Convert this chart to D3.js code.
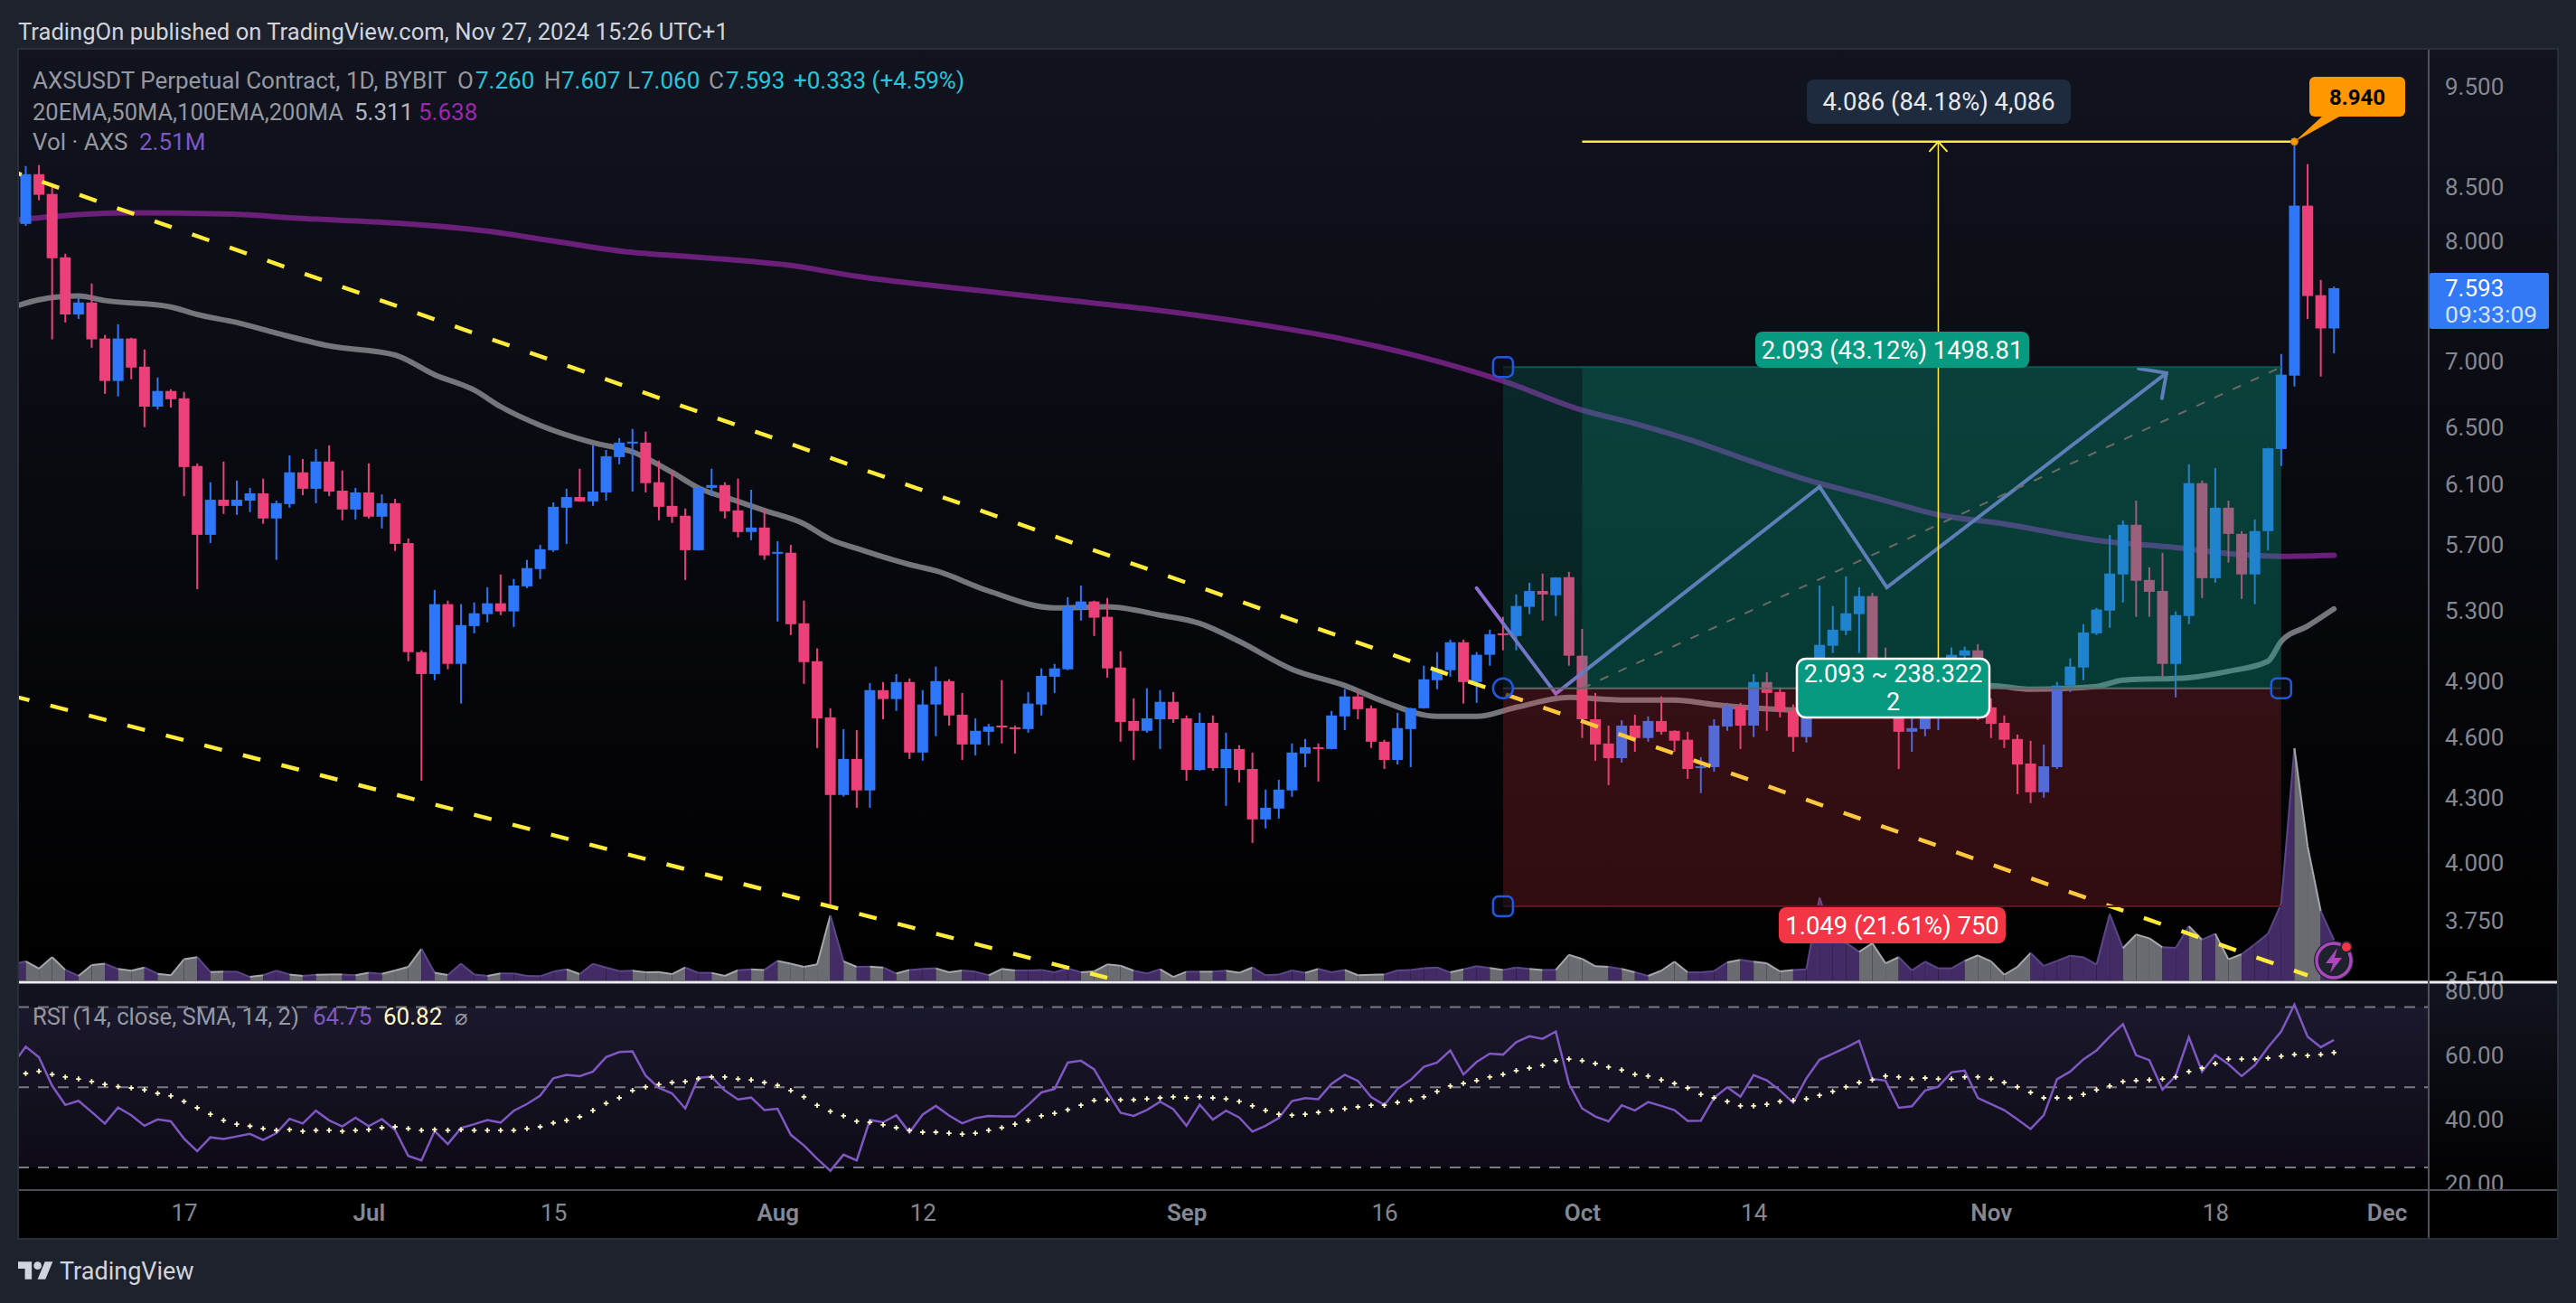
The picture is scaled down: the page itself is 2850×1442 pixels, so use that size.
<!DOCTYPE html>
<html>
<head>
<meta charset="utf-8">
<title>AXSUSDT</title>
<script src="https://cdn.jsdelivr.net/npm/d3@7"></script>
<style>
  html, body { margin: 0; padding: 0; background: #1e222d; }
  svg { display: block; font-family: Roboto, "Liberation Sans", sans-serif; }
</style>
</head>
<body>
<div id="chart"></div>
<script>
// daily candles, first one is 5 Jun 2024
const firstDay = new Date(Date.UTC(2024, 5, 5));

const opens = [
  8.157,8.622,8.434,7.859,7.374,7.473,7.179,6.847,7.179,6.957,
  6.654,6.771,6.716,6.228,5.768,5.998,5.957,5.992,6.041,5.874,
  5.969,6.184,6.072,6.259,6.059,5.933,6.047,5.886,5.975,5.715,
  5.061,4.939,5.339,4.995,5.210,5.280,5.344,5.296,5.446,5.552,
  5.670,5.945,6.016,5.987,6.047,6.290,6.386,6.392,6.116,5.957,
  5.892,5.670,6.078,6.097,5.927,5.786,5.815,5.648,5.654,5.226,
  5.010,4.706,4.316,4.493,4.338,4.851,4.803,4.895,4.525,4.774,
  4.900,4.720,4.566,4.631,4.663,4.654,4.645,4.774,4.924,4.965,
  5.312,5.355,5.264,4.975,4.687,4.636,4.696,4.788,4.701,4.438,
  4.677,4.447,4.543,4.443,4.200,4.251,4.338,4.520,4.552,4.543,
  4.711,4.817,4.754,4.580,4.488,4.645,4.754,4.905,4.960,5.117,
  4.895,5.046,5.168,5.153,5.323,5.418,5.392,5.502,5.041,4.696,
  4.571,4.497,4.663,4.599,4.687,4.636,4.590,4.447,4.452,4.658,
  4.764,4.663,4.895,4.841,4.740,4.604,4.910,5.097,5.184,5.280,
  5.387,4.944,4.822,4.631,4.645,4.749,4.895,5.041,5.071,4.759,
  4.677,4.594,4.470,4.329,4.452,4.876,4.975,5.168,5.301,5.519,
  5.833,5.485,5.418,4.995,5.269,6.110,5.496,5.945,5.774,5.519,
  5.792,6.347,6.888,8.325,7.534,7.260
];
const highs = [
  8.701,8.710,8.526,7.891,7.519,7.633,7.207,7.294,7.185,7.092,
  6.874,6.785,6.764,6.246,6.116,6.259,6.128,6.078,6.141,5.992,
  6.302,6.277,6.347,6.373,6.197,6.078,6.246,6.034,6.004,5.745,
  5.071,5.424,5.360,5.339,5.349,5.440,5.519,5.491,5.609,5.704,
  5.980,6.072,6.209,6.373,6.340,6.425,6.491,6.471,6.265,6.190,
  5.939,6.085,6.209,6.116,6.141,6.065,5.939,5.727,5.704,5.360,
  5.082,4.754,4.645,4.640,4.890,4.895,4.939,4.914,4.851,4.980,
  4.910,4.836,4.701,4.672,4.905,4.663,4.841,4.970,4.995,5.381,
  5.451,5.360,5.376,5.066,4.807,4.861,4.851,4.841,4.716,4.730,
  4.716,4.626,4.562,4.525,4.342,4.390,4.571,4.594,4.571,4.740,
  4.856,4.846,4.769,4.590,4.730,4.756,4.985,5.061,5.132,5.132,
  5.061,5.189,5.264,5.397,5.468,5.524,5.502,5.535,5.194,4.836,
  4.663,4.691,4.720,4.711,4.817,4.638,4.631,4.502,4.696,4.783,
  4.783,4.939,4.949,4.866,4.774,4.944,5.451,5.328,5.507,5.440,
  5.408,5.087,4.871,4.725,4.774,4.970,5.087,5.092,5.107,4.807,
  4.716,4.617,4.585,4.566,4.895,5.026,5.221,5.317,5.768,5.862,
  5.992,5.563,5.654,5.296,6.240,6.128,6.215,5.992,5.792,5.868,
  6.355,7.056,8.940,8.719,7.664,7.607
];
const lows = [
  8.139,8.375,7.172,7.308,7.337,7.106,6.750,6.730,6.860,6.504,
  6.634,6.647,6.022,5.429,5.715,5.904,5.898,5.916,5.839,5.609,
  5.945,6.028,5.975,6.022,5.862,5.868,5.874,5.809,5.665,5.010,
  4.385,4.905,4.965,4.779,5.168,5.232,5.274,5.205,5.435,5.491,
  5.659,5.710,5.985,5.957,5.992,6.240,6.053,6.047,5.862,5.845,
  5.485,5.668,6.022,5.874,5.751,5.733,5.609,5.237,5.158,4.885,
  4.548,3.813,4.308,4.255,4.255,4.696,4.740,4.493,4.484,4.608,
  4.663,4.488,4.511,4.562,4.571,4.520,4.626,4.716,4.836,4.960,
  5.242,5.153,4.919,4.580,4.488,4.626,4.543,4.677,4.385,4.434,
  4.434,4.264,4.377,4.091,4.158,4.204,4.307,4.452,4.381,4.541,
  4.640,4.696,4.548,4.443,4.465,4.452,4.752,4.856,4.924,4.779,
  4.783,4.985,5.071,5.071,5.280,5.242,5.269,4.985,4.599,4.484,
  4.364,4.475,4.529,4.580,4.617,4.529,4.394,4.325,4.430,4.636,
  4.543,4.604,4.636,4.706,4.529,4.576,4.798,5.056,5.158,5.056,
  4.871,4.749,4.443,4.529,4.608,4.640,4.871,4.919,4.691,4.599,
  4.548,4.320,4.277,4.303,4.443,4.841,4.905,5.158,5.200,5.349,
  5.264,5.264,4.924,4.812,5.221,5.376,5.468,5.592,5.370,5.339,
  5.670,6.228,6.805,7.337,6.881,7.060
];
const closes = [
  8.622,8.426,7.851,7.374,7.473,7.172,6.847,7.179,6.950,6.654,
  6.771,6.709,6.221,5.768,5.998,5.957,5.998,6.041,5.874,5.975,
  6.184,6.072,6.259,6.053,5.933,6.047,5.886,5.975,5.710,5.061,
  4.939,5.339,4.995,5.216,5.285,5.344,5.296,5.451,5.558,5.676,
  5.951,6.016,5.987,6.053,6.296,6.392,6.399,6.110,5.951,5.886,
  5.670,6.078,6.097,5.921,5.786,5.815,5.637,5.659,5.221,5.005,
  4.701,4.316,4.493,4.338,4.851,4.803,4.895,4.525,4.774,4.900,
  4.716,4.566,4.636,4.658,4.654,4.645,4.779,4.929,4.970,5.323,
  5.355,5.259,4.970,4.682,4.636,4.701,4.788,4.696,4.438,4.677,
  4.447,4.543,4.438,4.200,4.255,4.342,4.525,4.552,4.543,4.716,
  4.817,4.749,4.580,4.488,4.650,4.754,4.910,4.965,5.117,4.895,
  5.046,5.163,5.158,5.328,5.418,5.397,5.500,5.041,4.696,4.566,
  4.497,4.663,4.599,4.687,4.631,4.585,4.443,4.456,4.663,4.764,
  4.663,4.895,4.836,4.740,4.604,4.910,5.102,5.189,5.285,5.387,
  4.944,4.822,4.631,4.650,4.749,4.895,5.046,5.071,4.774,4.672,
  4.590,4.465,4.329,4.456,4.876,4.980,5.173,5.307,5.524,5.833,
  5.480,5.413,4.995,5.274,6.110,5.496,5.945,5.774,5.519,5.792,
  6.352,6.895,8.325,7.527,7.260,7.593
];
// volume in millions
const volumeBefore = 0.99;
const volumes = [
  1.18,.73,1.44,.65,.28,.95,1.03,.71,.60,.80,
  .41,.32,1.31,1.44,.52,.54,.54,.22,.32,.60,
  .37,.28,.35,.37,.37,.32,.47,.41,.62,.84,
  1.96,.47,.34,1.03,.37,.28,.43,.43,.28,.26,
  .54,.69,.39,1.03,.80,.58,.60,.50,.52,.39,
  .80,.47,.47,.28,.63,.69,.65,1.21,1.03,.84,
  .99,4.03,1.18,.84,.86,.80,.43,.65,.71,.75,
  .50,.62,.54,.32,.71,.62,.62,.65,.50,.75,
  .50,.56,.99,.91,.60,.43,.69,.22,.54,.54,
  .54,.60,.47,.80,.32,.37,.62,.47,.71,.50,
  .65,.32,.35,.37,.62,.65,.75,.80,.50,.69,
  .88,.77,.65,.80,.71,.65,.65,1.59,1.33,.88,
  .84,.71,.50,.28,.60,1.16,.50,.50,.58,1.12,
  1.27,1.16,1.06,.56,.65,.69,5.13,2.71,2.33,1.77,
  2.30,1.06,1.44,.62,1.16,.75,.75,1.21,1.55,1.18,
  .35,.84,1.70,.90,1.21,1.53,1.44,.99,4.11,2.00,
  2.84,2.61,2.05,2.02,3.36,2.52,2.89,1.31,1.62,2.24,
  2.89,4.76,14.38,8.31,4.29,2.51
];
const rsiBefore = 57.0;
const rsiValues = [
  62.7,59.4,50.5,44.5,45.8,42.3,38.7,43.7,41.3,38.0,
  40.0,39.4,34.0,30.1,34.4,33.9,34.7,35.5,33.6,35.7,
  40.2,38.7,42.7,39.7,37.8,40.5,37.9,40.1,36.7,28.6,
  27.2,36.4,32.3,37.3,38.5,39.8,39.0,42.7,44.8,47.4,
  52.8,53.9,53.5,54.9,59.4,61.0,61.2,53.6,49.8,48.1,
  43.4,53.0,53.3,49.0,46.2,46.8,42.9,43.3,35.2,31.9,
  27.7,24.0,29.0,27.2,39.8,39.1,41.3,35.9,41.5,44.2,
  41.2,38.8,40.4,41.1,40.9,40.9,44.5,48.4,49.5,57.7,
  58.3,55.6,48.6,42.1,41.1,42.9,45.5,43.2,38.0,44.6,
  39.9,42.7,40.6,36.2,38.0,40.4,45.7,46.6,46.3,51.1,
  53.9,52.0,47.0,44.5,49.5,52.3,56.4,57.7,61.5,54.0,
  57.9,60.5,60.2,64.1,65.9,65.1,67.4,51.1,43.4,40.9,
  39.4,44.4,42.8,45.4,44.2,42.9,39.5,39.6,46.7,50.0,
  47.1,53.8,52.2,49.0,45.2,52.8,58.6,60.5,62.4,64.5,
  52.6,52.1,43.6,44.1,49.0,50.2,54.7,55.2,46.7,44.8,
  42.9,40.0,37.0,41.3,52.5,54.9,58.7,61.5,65.8,69.7,
  60.0,58.5,49.3,53.6,65.6,54.9,60.1,57.2,53.5,56.9,
  62.5,67.4,75.8,65.8,62.5,64.75
];
const rsiSignal = [
  54.3,55.0,54.0,53.2,52.6,51.8,50.9,50.2,49.8,49.2,
  48.1,47.3,45.6,43.6,41.6,39.7,38.5,37.9,37.1,36.6,
  36.8,36.3,36.6,36.6,36.3,36.6,36.8,37.4,37.7,37.1,
  36.6,36.8,36.6,36.8,36.6,36.6,36.6,36.6,37.1,37.7,
  38.9,39.7,40.8,42.8,45.0,46.7,49.0,50.1,50.9,51.5,
  51.8,52.7,53.2,53.2,52.6,52.3,51.5,50.6,49.0,47.0,
  44.4,42.5,41.1,39.4,39.1,38.3,37.4,36.6,36.0,36.0,
  35.7,35.4,35.7,36.6,37.4,38.5,39.7,41.1,41.9,43.0,
  44.4,45.9,46.1,46.1,46.1,46.4,46.7,47.0,46.7,47.0,
  46.7,46.4,45.6,44.2,42.8,41.6,41.3,41.6,42.2,42.8,
  43.3,43.9,44.4,44.4,45.3,45.9,47.0,48.7,50.4,51.2,
  52.1,53.2,54.0,55.2,56.0,56.8,58.3,58.8,58.3,57.4,
  56.3,55.4,54.0,53.5,52.3,51.2,49.8,47.8,46.7,45.6,
  44.2,44.2,44.7,45.6,45.9,46.4,47.5,48.7,50.1,51.5,
  52.3,53.5,53.2,52.6,52.9,52.6,52.6,53.2,53.2,52.6,
  51.5,50.1,48.4,46.7,46.7,46.7,47.8,49.2,50.4,51.8,
  52.1,52.3,52.6,53.2,54.9,56.0,57.4,58.8,58.8,58.8,
  59.1,59.7,60.2,59.9,60.2,60.82
];
// moving averages, read every few days: day number from firstDay, then value
const ma200Days = [-1,2,8,15,21,28,35,40,45,52,58,63,73,78,85,93,100,106,112,118,122,127,128,135,140,145,150,157,163,168,171,175];
const ma200Values = [8.19,8.224,8.258,8.249,8.207,8.165,8.092,8.003,7.915,7.851,7.788,7.694,7.565,7.504,7.42,7.301,7.172,7.027,6.847,6.628,6.529,6.386,6.353,6.134,6.016,5.898,5.839,5.733,5.687,5.642,5.631,5.638];
const ma100Days = [-1,1,4,6,11,13,16,19,23,28,31,34,36,39,43,46,49,51,54,56,59,61,63,67,69,73,78,82,86,89,92,96,100,103,107,110,113,117,121,125,128,135,142,149,152,157,159,164,167,170,171,173,175];
const ma100Values = [7.432,7.496,7.527,7.489,7.436,7.374,7.308,7.222,7.12,7.048,6.895,6.778,6.654,6.517,6.392,6.327,6.184,6.078,5.987,5.927,5.839,5.739,5.681,5.58,5.541,5.418,5.317,5.323,5.274,5.226,5.122,4.965,4.876,4.788,4.711,4.711,4.759,4.812,4.798,4.798,4.774,4.745,4.822,4.876,4.856,4.871,4.905,4.919,4.954,5.01,5.122,5.21,5.311];

const priceTicks = [9.5,8.5,8,7,6.5,6.1,5.7,5.3,4.9,4.6,4.3,4,3.75,3.51];
const rsiTicks = [80,60,40,20];
const rsiBands = [75,50,25];
const timeTicks = [
  [2024,5,17,"17"],[2024,6,1,"Jul"],[2024,6,15,"15"],[2024,7,1,"Aug"],[2024,7,12,"12"],[2024,8,1,"Sep"],
  [2024,8,16,"16"],[2024,9,1,"Oct"],[2024,9,14,"14"],[2024,10,1,"Nov"],[2024,10,18,"18"],[2024,11,1,"Dec"]
];

// drawings on the chart, day number and price
const upperTrend = [[-1,8.648],[173,3.53]];
const lowerTrend = [[-1,4.82],[82,3.52]];
const zigzag = [[110,5.435],[116,4.832],[136,6.085],[141.1,5.44],[162.3,6.908]];
const entryPrice = 4.861, targetPrice = 6.954, stopPrice = 3.812, peakPrice = 8.94;
const boxStart = 112, boxMid = 118, boxEnd = 171, peakDay = 172, rangeDay = 145;

const W = 2850, H = 1442;
const plotLeft = 20, plotRight = 2830, axisX = 2687, plotTop = 54;
const paneBottom = 1087, rsiBottom = 1317, plotBottom = 1371;

const svg = d3.select("#chart").append("svg").attr("width", W).attr("height", H);
const defs = svg.append("defs");

function gradient(id, c1, c2) {
  const g = defs.append("linearGradient").attr("id", id).attr("x1", 0).attr("y1", 0).attr("x2", 0).attr("y2", 1);
  g.append("stop").attr("offset", "0%").attr("stop-color", c1);
  g.append("stop").attr("offset", "100%").attr("stop-color", c2);
}
gradient("paneBg", "#11131e", "#000000");
gradient("rsiBg", "#12141f", "#000000");

defs.append("clipPath").attr("id", "mainClip").append("rect")
  .attr("x", plotLeft).attr("y", plotTop).attr("width", axisX - plotLeft).attr("height", paneBottom - plotTop - 2);
defs.append("clipPath").attr("id", "rsiClip").append("rect")
  .attr("x", plotLeft).attr("y", paneBottom + 2).attr("width", axisX - plotLeft).attr("height", rsiBottom - paneBottom - 3);
defs.append("clipPath").attr("id", "priceAxisClip").append("rect")
  .attr("x", axisX).attr("y", plotTop).attr("width", plotRight - axisX).attr("height", paneBottom - plotTop - 1);
defs.append("clipPath").attr("id", "rsiAxisClip").append("rect")
  .attr("x", axisX).attr("y", paneBottom).attr("width", plotRight - axisX).attr("height", rsiBottom - paneBottom);

// scales
const x = d3.scaleUtc()
  .domain([new Date(Date.UTC(2024, 5, 17)), new Date(Date.UTC(2024, 11, 1))])
  .range([203.6, 2640.6]);
const y = d3.scaleLog().domain([9.5, 3.51]).range([96.5, 1085]);
const yVol = d3.scaleLinear().domain([0, 14.38]).range([1085, 828]);
const yRsi = d3.scaleLinear().domain([80, 20]).range([1096.8, 1309.8]);
const dayX = d => x(new Date(firstDay.getTime() + d * 864e5));

// backgrounds
svg.append("rect").attr("x", plotLeft).attr("y", plotTop).attr("width", plotRight - plotLeft).attr("height", paneBottom - plotTop).attr("fill", "url(#paneBg)");
svg.append("rect").attr("x", plotLeft).attr("y", paneBottom).attr("width", plotRight - plotLeft).attr("height", rsiBottom - paneBottom).attr("fill", "url(#rsiBg)");
svg.append("rect").attr("x", plotLeft).attr("y", rsiBottom).attr("width", plotRight - plotLeft).attr("height", plotBottom - rsiBottom).attr("fill", "#000");

const main = svg.append("g").attr("clip-path", "url(#mainClip)");

// volume, each piece of the area takes the colour of the candle it ends on
const volPoints = [volumeBefore].concat(volumes);
const volArea = d3.area().x(d => dayX(d[0])).y0(yVol(0)).y1(d => yVol(d[1]));
const volLine = d3.line().x(d => dayX(d[0])).y(d => yVol(d[1]));
closes.forEach((c, i) => {
  const seg = [[i - 1, volPoints[i]], [i, volPoints[i + 1]]];
  const up = c >= opens[i];
  main.append("path").attr("d", volArea(seg)).attr("fill", up ? "#432c66" : "#6a6c71");
  main.append("path").attr("d", volLine(seg)).attr("fill", "none").attr("stroke", up ? "#5b4688" : "#a5a7ab").attr("stroke-width", 2);
});

// moving averages
const maLine = d3.line().x(d => dayX(d[0])).y(d => y(d[1])).curve(d3.curveMonotoneX);
main.append("path").attr("d", maLine(ma200Days.map((d, i) => [d, ma200Values[i]])))
  .attr("fill", "none").attr("stroke", "#6a1f78").attr("stroke-width", 6).attr("stroke-linecap", "round");
main.append("path").attr("d", maLine(ma100Days.map((d, i) => [d, ma100Values[i]])))
  .attr("fill", "none").attr("stroke", "#74767c").attr("stroke-width", 6).attr("stroke-linecap", "round");

// candles
const bodyW = 12;
const candles = main.append("g").selectAll("g").data(closes).enter().append("g")
  .attr("fill", (c, i) => c >= opens[i] ? "#2e77fa" : "#ec407a")
  .attr("stroke", (c, i) => c >= opens[i] ? "#2e77fa" : "#ec407a");
candles.append("line")
  .attr("x1", (c, i) => dayX(i)).attr("x2", (c, i) => dayX(i))
  .attr("y1", (c, i) => y(highs[i])).attr("y2", (c, i) => y(lows[i]))
  .attr("stroke-width", 2);
candles.append("rect")
  .attr("x", (c, i) => dayX(i) - bodyW / 2)
  .attr("width", bodyW)
  .attr("y", (c, i) => y(Math.max(opens[i], c)))
  .attr("height", (c, i) => Math.max(2, y(Math.min(opens[i], c)) - y(Math.max(opens[i], c))))
  .attr("stroke", "none");

// trend lines
const trend = d3.line().x(d => dayX(d[0])).y(d => y(d[1]));
main.append("path").attr("d", trend(upperTrend)).attr("stroke", "#ffeb3b").attr("stroke-width", 4.5)
  .attr("stroke-dasharray", "20 24").attr("stroke-dashoffset", 9.5).attr("fill", "none");
main.append("path").attr("d", trend(lowerTrend)).attr("stroke", "#ffeb3b").attr("stroke-width", 4.5)
  .attr("stroke-dasharray", "20 24").attr("stroke-dashoffset", 0.8).attr("fill", "none");

// hand drawn arrow, under the box so the box tints it
main.append("path").attr("d", d3.line().x(d => dayX(d[0])).y(d => y(d[1]))(zigzag))
  .attr("fill", "none").attr("stroke", "#8c6fd6").attr("stroke-width", 4).attr("stroke-linejoin", "miter").attr("stroke-linecap", "round");
const tip = zigzag[zigzag.length - 1];
main.append("path")
  .attr("d", `M${dayX(tip[0]) - 31},${y(tip[1]) - 5}L${dayX(tip[0])},${y(tip[1])}L${dayX(tip[0]) - 5},${y(tip[1]) + 28}`)
  .attr("fill", "none").attr("stroke", "#8c6fd6").attr("stroke-width", 4).attr("stroke-linecap", "round");

// long position box
main.append("rect").attr("x", dayX(boxStart)).attr("width", dayX(boxEnd) - dayX(boxStart))
  .attr("y", y(targetPrice)).attr("height", y(entryPrice) - y(targetPrice)).attr("fill", "#089981").attr("fill-opacity", 0.2);
main.append("rect").attr("x", dayX(boxMid)).attr("width", dayX(boxEnd) - dayX(boxMid))
  .attr("y", y(targetPrice)).attr("height", y(entryPrice) - y(targetPrice)).attr("fill", "#089981").attr("fill-opacity", 0.2);
main.append("rect").attr("x", dayX(boxStart)).attr("width", dayX(boxEnd) - dayX(boxStart))
  .attr("y", y(entryPrice)).attr("height", y(stopPrice) - y(entryPrice)).attr("fill", "#f23645").attr("fill-opacity", 0.2);
main.append("line").attr("x1", dayX(boxStart)).attr("x2", dayX(boxEnd)).attr("y1", y(entryPrice)).attr("y2", y(entryPrice))
  .attr("stroke", "#5f6a68").attr("stroke-width", 2);
main.append("line").attr("x1", dayX(boxStart)).attr("x2", dayX(boxEnd)).attr("y1", y(targetPrice)).attr("y2", y(targetPrice))
  .attr("stroke", "#0b5a4e").attr("stroke-width", 2);
main.append("line").attr("x1", dayX(boxStart)).attr("x2", dayX(boxEnd)).attr("y1", y(stopPrice)).attr("y2", y(stopPrice))
  .attr("stroke", "#5a1720").attr("stroke-width", 2);
main.append("line").attr("x1", dayX(boxMid)).attr("x2", dayX(boxEnd)).attr("y1", y(entryPrice)).attr("y2", y(targetPrice))
  .attr("stroke", "#6d6a66").attr("stroke-width", 2).attr("stroke-dasharray", "10 12");

// price range tool
main.append("line").attr("x1", dayX(boxMid)).attr("x2", dayX(peakDay)).attr("y1", y(peakPrice)).attr("y2", y(peakPrice))
  .attr("stroke", "#ffeb3b").attr("stroke-width", 2.5);
main.append("line").attr("x1", dayX(rangeDay)).attr("x2", dayX(rangeDay)).attr("y1", y(peakPrice)).attr("y2", y(entryPrice))
  .attr("stroke", "#ffeb3b").attr("stroke-width", 1.5);
main.append("path")
  .attr("d", `M${dayX(rangeDay) - 10},${y(peakPrice) + 11}L${dayX(rangeDay)},${y(peakPrice)}L${dayX(rangeDay) + 10},${y(peakPrice) + 11}`)
  .attr("fill", "none").attr("stroke", "#ffeb3b").attr("stroke-width", 2);

// text helper
function label(g, tx, ty, str, color, size, weight, anchor) {
  return g.append("text").attr("x", tx).attr("y", ty).attr("dy", ".36em").text(str)
    .attr("fill", color).attr("font-size", size).attr("font-weight", weight || 400).attr("text-anchor", anchor || "start");
}

// callouts
function callout(bx, by, bw, bh, fill, lines, color) {
  svg.append("rect").attr("x", bx).attr("y", by).attr("width", bw).attr("height", bh).attr("rx", 8).attr("fill", fill);
  lines.forEach((t, i) => {
    label(svg, bx + bw / 2, by + bh / 2 + (i - (lines.length - 1) / 2) * 32, t, color || "#fff", 27.4, 400, "middle");
  });
}
callout(1999, 88, 292, 49, "#1e2a3d", ["4.086 (84.18%) 4,086"], "#e6e8ee");
callout(1942, 367, 303, 40, "#089981", ["2.093 (43.12%) 1498.81"]);
callout(1968, 1004, 251, 40, "#f23645", ["1.049 (21.61%) 750"]);

svg.append("rect").attr("x", 1988).attr("y", 729).attr("width", 213).attr("height", 65).attr("rx", 10)
  .attr("fill", "#089981").attr("stroke", "#ffffff").attr("stroke-width", 2.5);
label(svg, 2094.5, 745, "2.093 ~ 238.322", "#fff", 27, 400, "middle");
label(svg, 2094.5, 776, "2", "#fff", 27, 400, "middle");

// orange high flag
const px = dayX(peakDay), py = y(peakPrice);
svg.append("path").attr("d", `M${px},${py}L2570,128L2590,128Z`).attr("fill", "#ff9800");
svg.append("rect").attr("x", 2555).attr("y", 85).attr("width", 106).attr("height", 44).attr("rx", 6).attr("fill", "#ff9800");
label(svg, 2608, 107, "8.940", "#000", 24, 700, "middle");
svg.append("circle").attr("cx", px).attr("cy", py).attr("r", 4).attr("fill", "#ff9800").attr("stroke", "#b98a10").attr("stroke-width", 1);

// tool handles
[[boxStart, targetPrice], [boxStart, stopPrice], [boxEnd, entryPrice]].forEach(d => {
  svg.append("rect").attr("x", dayX(d[0]) - 11).attr("y", y(d[1]) - 11).attr("width", 22).attr("height", 22).attr("rx", 6)
    .attr("fill", "#0c0d14").attr("fill-opacity", 0.6).attr("stroke", "#2158e0").attr("stroke-width", 2.5);
});
svg.append("circle").attr("cx", dayX(boxStart)).attr("cy", y(entryPrice)).attr("r", 11)
  .attr("fill", "#0c0d14").attr("fill-opacity", 0.6).attr("stroke", "#2158e0").attr("stroke-width", 2.5);

// rsi pane
const rsiPane = svg.append("g").attr("clip-path", "url(#rsiClip)");
rsiPane.append("rect").attr("x", plotLeft).attr("width", axisX - plotLeft)
  .attr("y", yRsi(75)).attr("height", yRsi(25) - yRsi(75)).attr("fill", "#7e57c2").attr("fill-opacity", 0.1);
rsiBands.forEach(b => {
  rsiPane.append("line").attr("x1", plotLeft).attr("x2", axisX).attr("y1", yRsi(b)).attr("y2", yRsi(b))
    .attr("stroke", "#787b86").attr("stroke-width", 2).attr("stroke-dasharray", "12 10");
});
const rsiLine = d3.line().x(d => dayX(d[0])).y(d => yRsi(d[1]));
rsiPane.append("path").attr("d", rsiLine([[-1, rsiBefore]].concat(rsiValues.map((v, i) => [i, v]))))
  .attr("fill", "none").attr("stroke", "#7e57c2").attr("stroke-width", 2.5);
rsiPane.selectAll("path.cross").data(rsiSignal).enter().append("path").attr("class", "cross")
  .attr("d", d3.symbol(d3.symbolCross, 17))
  .attr("transform", (v, i) => `translate(${dayX(i)},${yRsi(v)})`)
  .attr("fill", "#fff9c4");

// axes
const priceAxis = svg.append("g").attr("clip-path", "url(#priceAxisClip)")
  .append("g").attr("transform", `translate(${axisX},0)`)
  .call(d3.axisRight(y).tickValues(priceTicks).tickFormat(d3.format(".3f")).tickSize(0).tickPadding(18));
const rsiAxis = svg.append("g").attr("clip-path", "url(#rsiAxisClip)")
  .append("g").attr("transform", `translate(${axisX},0)`)
  .call(d3.axisRight(yRsi).tickValues(rsiTicks).tickFormat(d3.format(".2f")).tickSize(0).tickPadding(18));
const timeAxis = svg.append("g").attr("transform", `translate(0,${rsiBottom})`)
  .call(d3.axisBottom(x).tickValues(timeTicks.map(t => new Date(Date.UTC(t[0], t[1], t[2]))))
    .tickFormat((d, i) => timeTicks[i][3]).tickSize(0).tickPadding(16));
[priceAxis, rsiAxis, timeAxis].forEach(a => {
  a.select(".domain").remove();
  a.selectAll("text").attr("fill", "#858892").attr("font-size", 26).attr("font-family", "Roboto");
});
timeAxis.selectAll("text").attr("font-weight", (d, i) => /^[A-Z]/.test(timeTicks[i][3]) ? 600 : 400);

// frame lines
svg.append("line").attr("x1", plotLeft).attr("x2", plotRight).attr("y1", paneBottom).attr("y2", paneBottom).attr("stroke", "#eeeef2").attr("stroke-width", 3);
svg.append("line").attr("x1", plotLeft).attr("x2", plotRight).attr("y1", rsiBottom).attr("y2", rsiBottom).attr("stroke", "#4c4d5a").attr("stroke-width", 2);
svg.append("line").attr("x1", axisX).attr("x2", axisX).attr("y1", plotTop).attr("y2", plotBottom).attr("stroke", "#50535e").attr("stroke-width", 2);
svg.append("rect").attr("x", plotLeft).attr("y", plotTop).attr("width", plotRight - plotLeft).attr("height", plotBottom - plotTop)
  .attr("fill", "none").attr("stroke", "#2a2e39").attr("stroke-width", 2);

// last price tag
svg.append("rect").attr("x", 2688).attr("y", 302).attr("width", 132).attr("height", 62).attr("rx", 2).attr("fill", "#3179f5");
label(svg, 2705, 319, "7.593", "#ffffff", 26);
label(svg, 2705, 347, "09:33:09", "#d5e1fb", 26.5);

// alert icon
const icon = svg.append("g").attr("transform", `translate(2582,1063)`);
icon.append("circle").attr("r", 22).attr("fill", "#1e222d");
icon.append("circle").attr("r", 19).attr("fill", "none").attr("stroke", "#ab47bc").attr("stroke-width", 3.5);
icon.append("path").attr("d", "M4,-14L-9,3L-1,3L-4,14L9,-3L1,-3Z").attr("fill", "#ab47bc");
icon.append("circle").attr("cx", 14).attr("cy", -15).attr("r", 7).attr("fill", "#1e222d");
icon.append("circle").attr("cx", 14).attr("cy", -15).attr("r", 5).attr("fill", "#f23645");

// legends
label(svg, 20, 35, "TradingOn published on TradingView.com, Nov 27, 2024 15:26 UTC+1", "#d1d4dc", 25.6);

const grey = "#9598a1", cyan = "#26c6da";
const legendRow = [
  [36, "AXSUSDT Perpetual Contract, 1D, BYBIT", grey],
  [506, "O", grey], [526, "7.260", cyan],
  [602, "H", grey], [621, "7.607", cyan],
  [694, "L", grey], [709, "7.060", cyan],
  [784, "C", grey], [803, "7.593", cyan],
  [878, "+0.333 (+4.59%)", cyan]
];
legendRow.forEach(d => label(svg, d[0], 89, d[1], d[2], 26));
label(svg, 36, 124, "20EMA,50MA,100EMA,200MA", grey, 25.5);
label(svg, 392, 124, "5.311", "#b2b5be", 26);
label(svg, 463, 124, "5.638", "#9c27b0", 26);
label(svg, 36, 157, "Vol · AXS", grey, 26);
label(svg, 154, 157, "2.51M", "#7e57c2", 26);
label(svg, 36, 1125, "RSI (14, close, SMA, 14, 2)", grey, 25.6);
label(svg, 346, 1125, "64.75", "#7e57c2", 26);
label(svg, 424, 1125, "60.82", "#fff9c4", 26);
label(svg, 503, 1125, "⌀", grey, 24);

// logo
const logo = svg.append("g").attr("transform", "translate(20,1392) scale(1.08)").attr("fill", "#d1d4dc");
logo.append("path").attr("d", "M14 22H7V11H0V4h14v18zM28 22h-8l7.5-18h8L28 22z");
logo.append("circle").attr("cx", 20).attr("cy", 8).attr("r", 4);
label(svg, 66, 1406, "TradingView", "#d1d4dc", 27);
</script>
</body>
</html>
